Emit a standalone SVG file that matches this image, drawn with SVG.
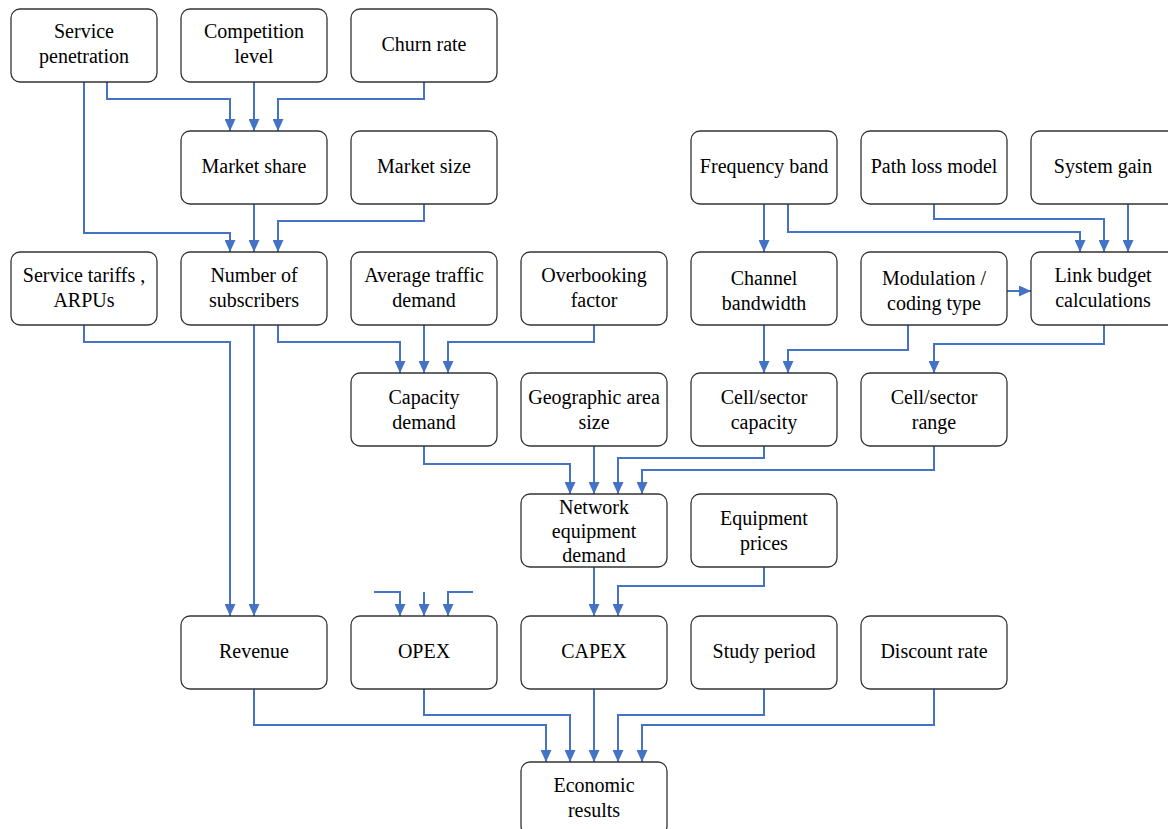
<svg xmlns="http://www.w3.org/2000/svg" width="1168" height="829" viewBox="0 0 1168 829">
<defs>
<marker id="ah" markerUnits="userSpaceOnUse" markerWidth="12" markerHeight="11" refX="12" refY="5.5" orient="auto" viewBox="0 0 12 11">
<path d="M0,0 L12,5.5 L0,11 z" fill="#4472C4"/>
</marker>
<style>
.box{fill:#fff;stroke:#333;stroke-width:1.3}
.t text{font-size:20px;fill:#000;text-anchor:middle}
.c path{fill:none;stroke:#4472C4;stroke-width:2;marker-end:url(#ah)}
</style>
</defs>
<rect width="1168" height="829" fill="#fff"/>
<g class="c" id="connectors">
<path d="M107,82 V99 H230 V131"/>
<path d="M254,82 V131"/>
<path d="M424,82 V99 H278 V131"/>
<path d="M84,82 V233 H230 V252"/>
<path d="M254,204 V252"/>
<path d="M424,204 V221 H278 V252"/>
<path d="M84,325 V342 H230 V616"/>
<path d="M254,325 V616"/>
<path d="M278,325 V342 H400 V373"/>
<path d="M424,325 V373"/>
<path d="M594,325 V342 H448 V373"/>
<path d="M764,204 V252"/>
<path d="M788,204 V232 H1080 V252"/>
<path d="M934,204 V219 H1104 V252"/>
<path d="M1128,204 V252"/>
<path d="M1006,291 H1031"/>
<path d="M764,325 V373"/>
<path d="M908,325 V350 H788 V373"/>
<path d="M1104,325 V344 H934 V373"/>
<path d="M424,446 V464 H570 V494"/>
<path d="M594,446 V494"/>
<path d="M764,446 V458 H618 V494"/>
<path d="M934,446 V470 H642 V494"/>
<path d="M594,567 V616"/>
<path d="M764,567 V586 H618 V616"/>
<path d="M374,592 H400 V616"/>
<path d="M424,592 V616"/>
<path d="M473,592 H448 V616"/>
<path d="M254,689 V725 H546 V762"/>
<path d="M424,689 V715 H570 V762"/>
<path d="M594,689 V762"/>
<path d="M764,689 V715 H618 V762"/>
<path d="M934,689 V725 H642 V762"/>
</g>
<g class="t" font-family="'Liberation Serif', 'DejaVu Serif', serif">
<g id="service-penetration"><rect class="box" x="11" y="9" width="146" height="73" rx="9"/><text x="84" y="38">Service</text><text x="84" y="63">penetration</text></g>
<g id="competition-level"><rect class="box" x="181" y="9" width="146" height="73" rx="9"/><text x="254" y="38">Competition</text><text x="254" y="63">level</text></g>
<g id="churn-rate"><rect class="box" x="351" y="9" width="146" height="73" rx="9"/><text x="424" y="51">Churn rate</text></g>
<g id="market-share"><rect class="box" x="181" y="131" width="146" height="73" rx="9"/><text x="254" y="173">Market share</text></g>
<g id="market-size"><rect class="box" x="351" y="131" width="146" height="73" rx="9"/><text x="424" y="173">Market size</text></g>
<g id="frequency-band"><rect class="box" x="691" y="131" width="146" height="73" rx="9"/><text x="764" y="173">Frequency band</text></g>
<g id="path-loss-model"><rect class="box" x="861" y="131" width="146" height="73" rx="9"/><text x="934" y="173">Path loss model</text></g>
<g id="system-gain"><rect class="box" x="1031" y="131" width="146" height="73" rx="9"/><text x="1103" y="173">System gain</text></g>
<g id="service-tariffs"><rect class="box" x="11" y="252" width="146" height="73" rx="9"/><text x="84" y="282">Service tariffs ,</text><text x="84" y="307">ARPUs</text></g>
<g id="number-of-subscribers"><rect class="box" x="181" y="252" width="146" height="73" rx="9"/><text x="254" y="282">Number of</text><text x="254" y="307">subscribers</text></g>
<g id="average-traffic-demand"><rect class="box" x="351" y="252" width="146" height="73" rx="9"/><text x="424" y="282">Average traffic</text><text x="424" y="307">demand</text></g>
<g id="overbooking-factor"><rect class="box" x="521" y="252" width="146" height="73" rx="9"/><text x="594" y="282">Overbooking</text><text x="594" y="307">factor</text></g>
<g id="channel-bandwidth"><rect class="box" x="691" y="252" width="146" height="73" rx="9"/><text x="764" y="285">Channel</text><text x="764" y="310">bandwidth</text></g>
<g id="modulation-coding"><rect class="box" x="861" y="252" width="146" height="73" rx="9"/><text x="934" y="285">Modulation /</text><text x="934" y="310">coding type</text></g>
<g id="link-budget"><rect class="box" x="1031" y="252" width="146" height="73" rx="9"/><text x="1103" y="282">Link budget</text><text x="1103" y="307">calculations</text></g>
<g id="capacity-demand"><rect class="box" x="351" y="373" width="146" height="73" rx="9"/><text x="424" y="404">Capacity</text><text x="424" y="429">demand</text></g>
<g id="geographic-area-size"><rect class="box" x="521" y="373" width="146" height="73" rx="9"/><text x="594" y="404">Geographic area</text><text x="594" y="429">size</text></g>
<g id="cell-sector-capacity"><rect class="box" x="691" y="373" width="146" height="73" rx="9"/><text x="764" y="404">Cell/sector</text><text x="764" y="429">capacity</text></g>
<g id="cell-sector-range"><rect class="box" x="861" y="373" width="146" height="73" rx="9"/><text x="934" y="404">Cell/sector</text><text x="934" y="429">range</text></g>
<g id="network-equipment-demand"><rect class="box" x="521" y="494" width="146" height="73" rx="9"/><text x="594" y="514">Network</text><text x="594" y="538">equipment</text><text x="594" y="562">demand</text></g>
<g id="equipment-prices"><rect class="box" x="691" y="494" width="146" height="73" rx="9"/><text x="764" y="525">Equipment</text><text x="764" y="550">prices</text></g>
<g id="revenue"><rect class="box" x="181" y="616" width="146" height="73" rx="9"/><text x="254" y="658">Revenue</text></g>
<g id="opex"><rect class="box" x="351" y="616" width="146" height="73" rx="9"/><text x="424" y="658">OPEX</text></g>
<g id="capex"><rect class="box" x="521" y="616" width="146" height="73" rx="9"/><text x="594" y="658">CAPEX</text></g>
<g id="study-period"><rect class="box" x="691" y="616" width="146" height="73" rx="9"/><text x="764" y="658">Study period</text></g>
<g id="discount-rate"><rect class="box" x="861" y="616" width="146" height="73" rx="9"/><text x="934" y="658">Discount rate</text></g>
<g id="economic-results"><rect class="box" x="521" y="762" width="146" height="73" rx="9"/><text x="594" y="792">Economic</text><text x="594" y="817">results</text></g>
</g>
</svg>
